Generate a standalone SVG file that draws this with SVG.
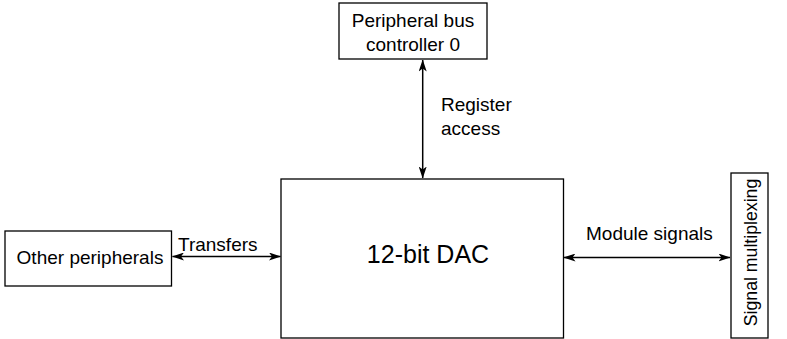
<svg xmlns="http://www.w3.org/2000/svg" width="787" height="339" viewBox="0 0 787 339">
<style>
.box{fill:#fff;stroke:#000;stroke-width:1.3}
.t{font-family:"Liberation Sans",Arial,sans-serif;font-size:19px;fill:#000}
.c{stroke:#000;stroke-width:1.5;fill:none;marker-start:url(#a);marker-end:url(#a)}
</style>
<defs>
<marker id="a" viewBox="0 0 12 8" refX="11.5" refY="4" markerWidth="12" markerHeight="8" markerUnits="userSpaceOnUse" orient="auto-start-reverse">
<path d="M0,0 L12,4 L0,8 L3,4 Z" fill="#000"/>
</marker>
</defs>
<g id="connectors">
<line class="c" x1="422.7" y1="60" x2="422.7" y2="178"/>
<line class="c" x1="172.5" y1="256.5" x2="280.5" y2="256.5"/>
<line class="c" x1="564" y1="257.5" x2="730" y2="257.5"/>
<text class="t" x="441" y="111">Register</text>
<text class="t" x="441" y="135">access</text>
<text class="t" x="178" y="251">Transfers</text>
<text class="t" x="586" y="240">Module signals</text>
</g>
<g id="pbc">
<rect class="box" x="339" y="3" width="148" height="56"/>
<text class="t" x="413" y="27" text-anchor="middle">Peripheral bus</text>
<text class="t" x="413" y="51" text-anchor="middle">controller 0</text>
</g>
<g id="dac">
<rect class="box" x="281" y="179" width="282.5" height="159"/>
<text class="t" x="428" y="263" text-anchor="middle" style="font-size:25px">12-bit DAC</text>
</g>
<g id="other">
<rect class="box" x="5" y="231" width="166.5" height="55"/>
<text class="t" x="90" y="264" text-anchor="middle">Other peripherals</text>
</g>
<g id="sigmux">
<rect class="box" x="731" y="173" width="37" height="165"/>
<text class="t" transform="translate(756.5,252.5) rotate(-90)" text-anchor="middle" style="font-size:17.7px">Signal multiplexing</text>
</g>
</svg>
